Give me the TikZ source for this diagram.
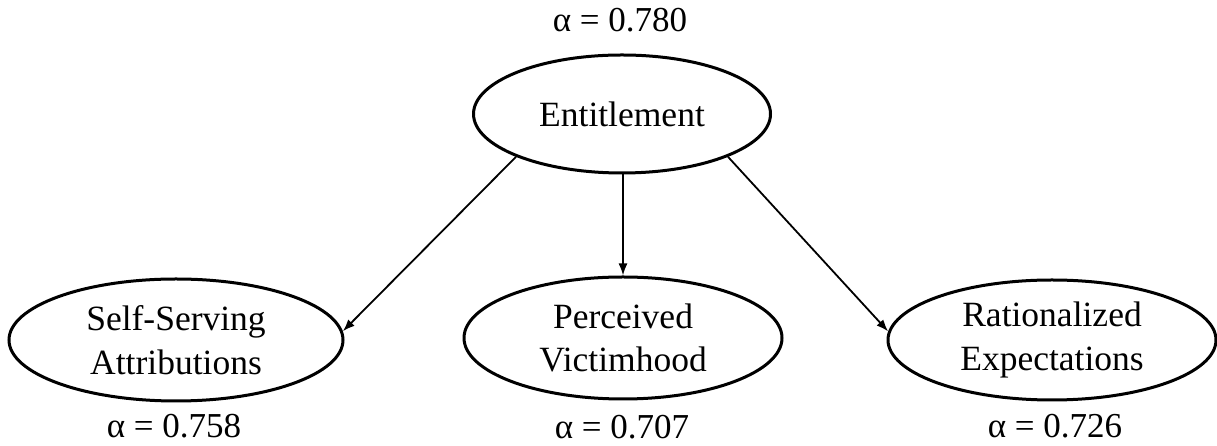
\documentclass[tikz,border=0pt]{standalone}
\usepackage{fontspec}
\setmainfont{Liberation Serif}
\usetikzlibrary{shapes.geometric,arrows.meta}
\tikzset{
  construct/.style={draw=black, line width=3pt, ellipse, inner sep=0pt, align=center,
    font=\fontsize{35.5}{43.5}\selectfont},
  alphalabel/.style={font=\fontsize{35}{40}\selectfont, inner sep=0pt, anchor=base},
  path/.style={draw=black, line width=1.8pt, -{Latex[length=12pt,width=9pt]}}
}
\begin{document}
\begin{tikzpicture}[x=1pt,y=1pt]
\useasboundingbox (0,0) rectangle (1217,446);
\node[construct, minimum width=297pt, minimum height=118pt] (ent) at (622,332) {Entitlement};
\node[construct, minimum width=334pt, minimum height=122pt] (ssa) at (176,106) {Self-Serving\\Attributions};
\node[construct, minimum width=318pt, minimum height=122pt] (pv) at (623,108) {Perceived\\Victimhood};
\node[construct, minimum width=328pt, minimum height=120pt] (re) at (1052,106) {Rationalized\\Expectations};
\node[alphalabel] (a0) at (620,414) {α = 0.780};
\node[alphalabel] (a1) at (174,8) {α = 0.758};
\node[alphalabel] (a2) at (622,7) {α = 0.707};
\node[alphalabel] (a3) at (1055,8) {α = 0.726};
\draw[path] (ent.202) -- (ssa.3);
\draw[path] (ent.south -| pv.north) -- (pv.north);
\draw[path] (ent.338) -- (re.177);
\end{tikzpicture}
\end{document}
